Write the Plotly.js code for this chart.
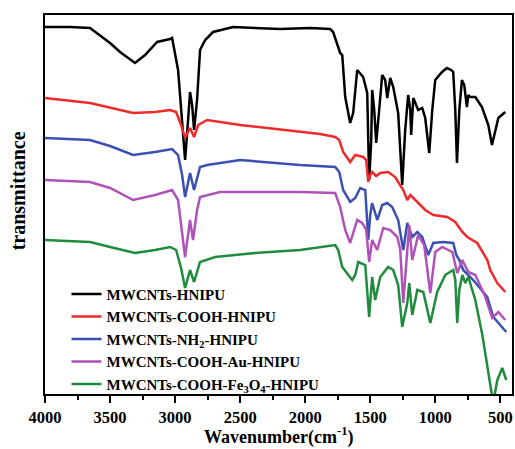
<!DOCTYPE html>
<html>
<head>
<meta charset="utf-8">
<script src="https://cdn.plot.ly/plotly-3.0.1.min.js"></script>
<style>html,body{margin:0;padding:0;background:#fff;}#chart{width:515px;height:449px;}</style>
</head>
<body>
<div id="chart"></div>
<script>
// Series names
var seriesNames = [
  'MWCNTs-HNIPU',
  'MWCNTs-COOH-HNIPU',
  'MWCNTs-NH<sub>2</sub>-HNIPU',
  'MWCNTs-COOH-Au-HNIPU',
  'MWCNTs-COOH-Fe<sub>3</sub>O<sub>4</sub>-HNIPU'
];
var xTickVals = [4000, 3500, 3000, 2500, 2000, 1500, 1000, 500];
var xTickText = ['4000', '3500', '3000', '2500', '2000', '1500', '1000', '500'];
var xTitle = 'Wavenumber(cm<sup>-1</sup>)';
var yTitle = 'transmittance';

// MWCNTs-HNIPU (black)
var wnBlack = [4000,3808,3654,3500,3423,3308,3231,3138,3038,3023,2977,2946,2923,2900,2885,2869,2854,2831,2808,2769,2708,2554,2192,1962,1808,1785,1754,1731,1715,1692,1654,1631,1600,1577,1554,1523,1508,1492,1485,1469,1454,1431,1408,1385,1369,1346,1323,1285,1254,1231,1208,1192,1185,1169,1131,1100,1077,1046,1023,1000,948,910,877,862,846,833,815,795,777,757,746,731,692,641,592,564,538,515,462];
var tBlack = [367,367,366,351,342,331,339,352,355,356,324,274,234,274,302,289,264,294,344,354,362,367,365,366,365,362,351,341,339,297,271,281,324,321,317,301,214,254,304,284,251,284,319,314,296,316,307,281,209,264,299,284,259,296,284,286,276,241,284,314,322,326,324,322,284,231,284,314,309,287,299,297,297,287,269,249,264,276,282];

// MWCNTs-COOH-HNIPU (red)
var wnRed = [4000,3654,3323,3154,3038,2992,2954,2923,2885,2854,2823,2754,2500,2038,1885,1769,1738,1708,1654,1615,1554,1531,1515,1500,1485,1454,1423,1362,1308,1285,1246,1215,1192,1138,1077,1015,908,846,792,754,677,600,577,523,462];
var tRed = [296,291,281,282,284,282,269,256,266,257,269,274,269,262,260,257,254,242,232,239,237,234,212,219,222,218,221,222,217,212,204,194,199,192,184,179,177,172,162,157,151,134,124,111,102];

// MWCNTs-NH2-HNIPU (blue)
var wnBlue = [4000,3654,3500,3323,3154,3023,2977,2946,2923,2885,2854,2808,2754,2500,2038,1769,1738,1708,1654,1615,1577,1538,1515,1500,1485,1446,1408,1369,1331,1285,1246,1215,1177,1138,1100,1054,1015,938,862,838,815,785,708,600,554,500,454];
var tBlue = [256,254,248,239,242,245,239,219,197,221,204,227,229,234,229,227,222,204,192,196,206,204,154,179,191,174,189,191,187,174,144,171,157,162,157,139,151,152,151,139,134,124,114,97,77,69,62];

// MWCNTs-COOH-Au-HNIPU (purple)
var wnPurple = [4000,3654,3500,3323,3154,3023,2977,2946,2923,2885,2862,2831,2808,2654,2038,1769,1731,1692,1654,1600,1562,1531,1508,1485,1446,1400,1346,1292,1269,1246,1223,1200,1177,1131,1085,1038,1000,946,869,831,792,746,692,615,562,515,462];
var tPurple = [214,212,206,194,199,204,194,164,137,174,154,184,197,202,202,201,187,164,151,174,171,164,132,154,144,166,164,157,144,91,134,169,134,159,149,101,142,147,142,121,134,122,119,97,76,82,74];

// MWCNTs-COOH-Fe3O4-HNIPU (green)
var wnGreen = [4000,3654,3500,3308,3154,3038,2992,2954,2923,2885,2854,2808,2692,2385,2038,1769,1746,1715,1638,1615,1592,1538,1508,1485,1462,1423,1362,1323,1285,1254,1215,1200,1177,1138,1092,1038,985,923,862,846,831,815,792,769,746,692,638,592,562,546,523,485,454];
var tGreen = [154,152,147,141,144,147,144,126,106,124,112,132,137,141,144,149,144,127,114,119,132,129,77,117,94,117,127,124,109,67,91,111,79,104,102,71,102,119,124,114,71,104,119,111,117,94,59,24,-3,-3,14,26,14];

var colors = ['#000000', '#f02a2a', '#3a50b2', '#b052b8', '#1e8c3c'];
var xs = [wnBlack, wnRed, wnBlue, wnPurple, wnGreen];
var ys = [tBlack, tRed, tBlue, tPurple, tGreen];

var serif = 'Liberation Serif, Times New Roman, serif';
var traces = [];
for (var i = 0; i < 5; i++) {
  traces.push({
    x: xs[i], y: ys[i], type: 'scatter', mode: 'lines',
    name: seriesNames[i],
    line: {color: colors[i], width: 2.5}
  });
}

var layout = {
  width: 515, height: 449,
  margin: {l: 45, r: 3, t: 15, b: 55},
  paper_bgcolor: '#ffffff', plot_bgcolor: '#ffffff',
  showlegend: true,
  legend: {
    x: 0.046, y: -0.018, xanchor: 'left', yanchor: 'bottom',
    bgcolor: 'rgba(0,0,0,0)', borderwidth: 0,
    font: {family: serif, size: 15, color: '#000', weight: 'bold'},
    tracegroupgap: 0
  },
  xaxis: {
    range: [4000, 410], autorange: false,
    tickvals: xTickVals, ticktext: xTickText,
    ticks: 'outside', ticklen: 7, tickwidth: 2, tickcolor: '#000',
    minor: {dtick: 250, tick0: 500, ticks: 'outside', ticklen: 4, tickwidth: 2, tickcolor: '#000', showgrid: false},
    showline: true, linewidth: 2, linecolor: '#000', mirror: true,
    showgrid: false, zeroline: false,
    tickfont: {family: serif, size: 16.5, color: '#000', weight: 'bold'}
  },
  yaxis: {
    range: [0, 379], autorange: false,
    showticklabels: false, ticks: '',
    showline: true, linewidth: 2, linecolor: '#000', mirror: true,
    showgrid: false, zeroline: false
  },
  annotations: [{
    text: yTitle, textangle: -90, showarrow: false,
    xref: 'paper', yref: 'paper', x: -0.056, y: 0.537,
    xanchor: 'center', yanchor: 'middle',
    font: {family: serif, size: 20, color: '#000', weight: 'bold'}
  }, {
    text: xTitle, showarrow: false,
    xref: 'paper', yref: 'paper', x: 0.5, y: -0.112,
    xanchor: 'center', yanchor: 'middle',
    font: {family: serif, size: 18, color: '#000', weight: 'bold'}
  }]
};

Plotly.newPlot('chart', traces, layout, {displayModeBar: false, staticPlot: true});
</script>
</body>
</html>
